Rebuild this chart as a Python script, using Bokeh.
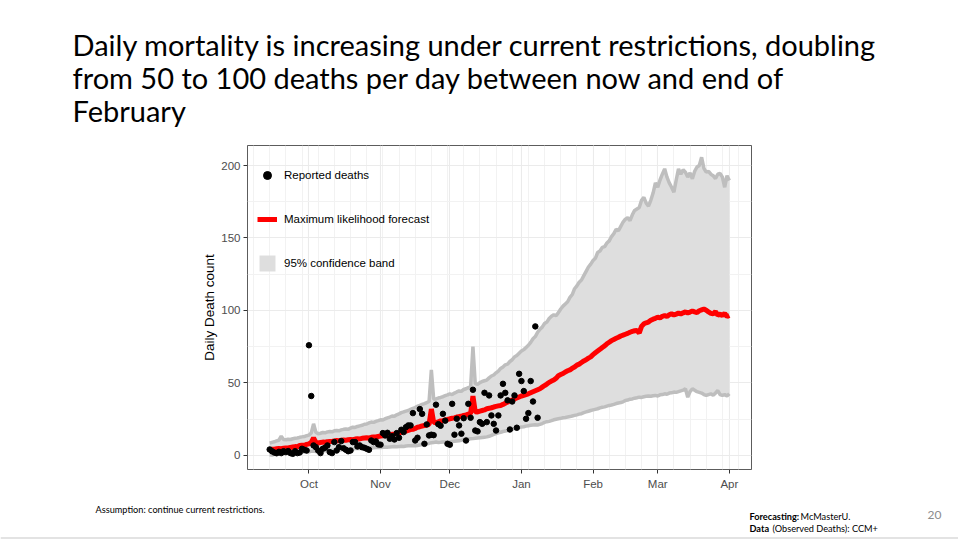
import numpy as np
import pandas as pd
from bokeh.plotting import figure
from bokeh.layouts import column
from bokeh.models import Range1d, FixedTicker, Label, Legend, LegendItem, Span
from bokeh.embed import file_html
from bokeh.resources import INLINE

# ---------------- data ----------------
start_date = "2020-09-14"   # first day of every daily series below

forecast = [
    4.0, 4.3, 4.2, 4.6, 4.8, 4.7, 5.0, 5.2, 5.1, 5.5,
    5.8, 6.1, 6.0, 6.9, 7.1, 7.0, 7.6, 8.0, 9.0, 12.0,
    9.0, 8.6, 8.9, 9.2, 9.1, 9.5, 9.7, 9.6, 10.0, 10.3,
    10.2, 10.5, 10.6, 10.5, 10.8, 11.0, 10.9, 11.3, 11.5, 11.4,
    11.8, 12.0, 12.2, 12.1, 12.5, 12.8, 12.7, 13.1, 13.4, 13.6,
    13.8, 14.2, 14.1, 14.6, 14.9, 15.3, 15.4, 16.1, 16.6, 16.8,
    17.3, 17.8, 18.0, 18.6, 19.5, 19.8, 20.3, 20.6, 21.0, 21.5,
    32.0, 22.8, 22.6, 23.2, 23.8, 24.0, 24.5, 24.8, 25.3, 25.6,
    25.9, 26.5, 26.8, 27.0, 27.6, 28.0, 28.5, 29.0, 41.0, 30.2,
    30.0, 30.6, 31.0, 31.4, 32.2, 32.5, 32.9, 33.4, 33.8, 34.2,
    34.5, 35.2, 36.0, 36.8, 37.5, 38.3, 39.0, 39.6, 40.3, 41.0,
    41.5, 42.0, 42.5, 43.2, 43.9, 44.6, 45.3, 46.0, 47.1, 48.2,
    49.2, 50.4, 51.3, 52.0, 53.2, 55.0, 55.8, 56.5, 57.6, 58.4,
    59.0, 60.2, 61.0, 62.3, 63.0, 64.1, 65.2, 66.0, 67.1, 68.0,
    69.5, 70.8, 72.0, 73.2, 74.5, 75.6, 77.0, 78.1, 79.2, 80.0,
    80.8, 81.5, 82.4, 83.0, 83.6, 84.2, 85.0, 85.6, 86.0, 86.2,
    84.5, 89.0, 90.8, 91.5, 92.0, 93.2, 94.0, 94.6, 95.4, 94.8,
    96.0, 96.5, 95.8, 97.0, 97.7, 96.9, 97.5, 98.2, 97.6, 98.4,
    99.0, 98.3, 98.9, 99.6, 99.0, 98.5, 99.8, 100.4, 101.0, 100.2,
    99.0, 98.0, 97.7, 99.2, 96.8, 97.5, 96.5, 98.0, 95.8, 96.5,
]

upper_band = [
    8.5, 9.0, 9.4, 10.0, 10.5, 13.3, 11.0, 10.8, 11.2, 11.0,
    11.5, 11.8, 12.0, 12.5, 12.8, 13.0, 13.6, 14.0, 15.5, 21.8,
    16.0, 15.0, 15.3, 15.8, 15.6, 16.2, 16.5, 16.3, 17.0, 17.2,
    17.0, 17.6, 18.0, 18.2, 18.0, 18.8, 19.5, 19.3, 20.0, 20.4,
    20.8, 21.5, 21.7, 22.4, 23.0, 22.8, 23.5, 24.0, 24.6, 24.4,
    25.3, 25.9, 26.5, 27.2, 27.0, 28.0, 28.7, 29.5, 30.0, 30.6,
    31.0, 31.8, 32.5, 33.0, 34.0, 34.5, 35.2, 35.8, 36.5, 37.2,
    59.0, 38.8, 39.0, 39.6, 40.0, 40.5, 41.2, 41.8, 42.5, 42.0,
    43.0, 43.8, 44.5, 44.2, 45.5, 46.0, 46.8, 47.5, 75.0, 49.5,
    49.0, 50.2, 51.0, 51.5, 52.0, 53.5, 54.8, 55.5, 57.0, 58.2,
    60.0, 61.0, 62.5, 63.0, 64.8, 66.0, 68.0, 69.0, 70.5, 72.0,
    73.0, 74.5, 76.0, 78.0, 80.5, 82.0, 85.0, 87.0, 88.5, 91.0,
    92.0, 94.5, 96.0, 97.0, 96.5, 98.5, 101.0, 103.0, 104.5, 106.0,
    109.0, 111.0, 115.0, 117.0, 119.5, 121.0, 124.0, 127.0, 130.0, 132.0,
    134.5, 136.0, 140.0, 141.0, 143.5, 144.0, 146.5, 148.0, 151.0, 153.0,
    156.0, 155.0, 158.0, 161.0, 163.0, 164.0, 162.0, 166.0, 169.0, 170.0,
    171.0, 176.0, 178.0, 174.0, 172.0, 176.0, 181.0, 188.0, 185.0, 190.0,
    194.0, 197.7, 192.0, 188.0, 185.0, 181.6, 190.0, 197.7, 194.0, 197.0,
    195.4, 192.0, 195.0, 190.8, 196.0, 199.0, 200.0, 205.7, 198.0, 195.4,
    196.0, 194.0, 193.0, 191.0, 194.0, 194.5, 192.0, 185.0, 193.0, 189.7,
]

lower_band = [
    0.5, 0.2, 0.8, 1.0, 0.9, 1.2, 1.4, 1.3, 1.6, 1.8,
    1.7, 2.0, 2.1, 2.0, 2.3, 2.4, 2.3, 2.5, 2.8, 3.0,
    2.7, 2.9, 3.1, 3.0, 3.3, 3.5, 3.4, 3.6, 3.8, 3.9,
    3.8, 4.0, 4.2, 4.1, 4.4, 4.5, 4.4, 4.7, 4.8, 4.8,
    5.0, 5.1, 5.0, 5.3, 5.4, 5.3, 5.5, 5.6, 5.5, 5.7,
    5.8, 5.7, 5.9, 6.0, 6.1, 6.0, 6.2, 6.3, 6.2, 6.5,
    6.6, 6.7, 6.8, 6.7, 6.9, 7.2, 7.5, 7.8, 8.0, 8.3,
    8.8, 9.0, 9.2, 9.0, 9.1, 9.3, 9.2, 9.4, 9.3, 9.6,
    9.8, 10.0, 10.2, 10.4, 10.8, 11.0, 11.3, 11.5, 11.6, 11.8,
    12.0, 12.2, 12.4, 12.6, 12.8, 13.2, 13.8, 14.5, 15.0, 15.6,
    16.0, 16.5, 16.8, 17.2, 17.8, 18.1, 18.5, 19.0, 19.2, 19.6,
    19.8, 20.2, 20.5, 20.8, 21.0, 21.2, 21.0, 21.4, 22.0, 22.8,
    23.3, 23.5, 24.0, 24.6, 25.0, 25.3, 25.6, 26.0, 26.2, 26.5,
    26.8, 27.2, 27.6, 28.0, 28.5, 28.8, 29.5, 30.0, 30.5, 31.0,
    31.4, 31.8, 32.2, 32.8, 33.2, 33.5, 34.0, 34.5, 34.8, 35.2,
    35.8, 36.2, 36.5, 37.0, 37.9, 38.2, 38.8, 39.0, 39.5, 39.8,
    40.2, 40.0, 40.5, 40.8, 41.0, 40.8, 41.2, 41.4, 41.0, 41.8,
    42.0, 42.5, 42.2, 43.0, 43.2, 43.7, 43.5, 44.0, 44.5, 45.0,
    46.0, 40.2, 44.0, 46.0, 45.0, 44.0, 43.5, 43.0, 42.0, 41.4,
    42.0, 42.5, 41.5, 43.0, 44.8, 42.0, 41.4, 42.0, 41.0, 42.5,
]

reported_deaths = [
    4.1, 2.9, 2.0, 1.5, 2.5, 1.6, 2.9, 2.3, 3.0, 1.6,
    1.1, 2.9, 1.6, 2.0, 4.6, 3.9, 3.4,
    76.0, 41.0, 6.9, 5.7, 3.4, 1.6, 4.6, 5.3, 6.9, 2.3,
    1.6, 9.2, 3.4, 5.7, 9.9, 5.0, 3.9, 2.9, 3.4, 9.2,
    9.2, 6.2, 6.9, 5.7, 5.3, 4.6, 3.9, 10.3, 9.2, 9.7,
    7.6, 7.4, 15.4, 13.8, 15.6, 11.5, 13.3, 11.0, 15.4, 12.2,
    17.7, 16.1, 19.5, 20.7, 20.7, 29.2, 10.3, 12.2, 32.0, 28.7,
    8.0, 21.4, 13.8, 14.3, 14.0, 35.0, 21.6, 20.5, 28.7, 24.0,
    8.0, 7.4, 35.6, 14.3, 25.3, 20.7, 15.0, 25.7, 10.3, 35.6,
    26.0, 45.3, 17.2, 16.6, 23.0, 21.8, 43.2, 23.0, 41.4, 27.6,
    21.8, 17.2, 27.6, 41.4, 49.4, 43.2, 38.0, 17.9, 37.2, 41.4,
    19.1, 56.3, 51.3, 44.4, 25.3, 29.2, 51.3, 37.2, 89.0, 26.0,
]

month_ticks = ["2020-10-01", "2020-11-01", "2020-12-01", "2021-01-01",
               "2021-02-01", "2021-03-01", "2021-04-01"]
month_labels = ["Oct", "Nov", "Dec", "Jan", "Feb", "Mar", "Apr"]
y_ticks = [0, 50, 100, 150, 200]
y_minor_ticks = [25, 75, 125, 175]

legend_labels = ["Reported deaths", "Maximum likelihood forecast", "95% confidence band"]
title_lines = [
    "Daily mortality is increasing under current restrictions, doubling",
    "from 50 to 100 deaths per day between now and end of",
    "February",
]

# ---------------- helpers ----------------
DAY = 86400000.0
W = 958


def ms(d):
    return pd.Timestamp(d).value / 1e6


def blank_fig(height, y_top, y_bottom):
    f = figure(width=W, height=height, output_backend="svg", toolbar_location=None,
               x_range=Range1d(0, W), y_range=Range1d(y_bottom, y_top),
               x_axis_location=None, y_axis_location=None,
               min_border=0, min_border_left=0, min_border_right=0,
               min_border_top=0, min_border_bottom=0)
    f.frame_align = False
    f.grid.visible = False
    f.outline_line_color = None
    f.background_fill_color = "white"
    f.border_fill_color = "white"
    return f


def add_text(f, txt, x, y, size, color="black", font="Lato", style="normal"):
    f.add_layout(Label(x=x, y=y, text=txt, text_font=font, text_font_size=size,
                       text_color=color, text_font_style=style,
                       text_baseline="alphabetic"))


# ---------------- title block ----------------
top = blank_fig(138, 0, 138)
for i, line in enumerate(title_lines):
    add_text(top, line, 72, 44 + 33 * i, "29px")

# ---------------- chart ----------------
dates = pd.date_range(start_date, periods=len(forecast), freq="D")
rep_dates = pd.date_range(start_date, periods=len(reported_deaths), freq="D")

x0 = ms(month_ticks[0]) - 26.6 * DAY
x1 = ms(month_ticks[0]) + 191.6 * DAY

p = figure(width=W, height=357, output_backend="svg", toolbar_location=None,
           x_axis_type="datetime",
           x_range=Range1d(x0, x1), y_range=Range1d(-9.7, 213.8),
           min_border_left=247, min_border_right=W - 751,
           min_border_top=7, min_border_bottom=26)
p.frame_align = False
p.background_fill_color = "white"
p.border_fill_color = "white"
p.outline_line_color = "#333333"
p.outline_line_width = 1
p.outline_line_alpha = 0.8

week_lines = [ms(d) for d in pd.date_range("2020-09-07", "2021-04-12", freq="W-MON")]
tick_ms = [ms(d) for d in month_ticks]
p.xaxis.ticker = FixedTicker(ticks=tick_ms, minor_ticks=week_lines)
p.xaxis.major_label_overrides = {t: lab for t, lab in zip(tick_ms, month_labels)}
p.yaxis.ticker = FixedTicker(ticks=y_ticks, minor_ticks=y_minor_ticks)

for ax in (p.xaxis, p.yaxis):
    ax.axis_line_color = None
    ax.major_tick_line_color = "#333333"
    ax.major_tick_out = 4
    ax.major_tick_in = 0
    ax.minor_tick_line_color = None
    ax.major_label_text_font = "Liberation Sans"
    ax.major_label_text_font_size = "11.5px"
    ax.major_label_text_color = "#4D4D4D"
    ax.major_label_standoff = 3
p.xaxis.major_label_standoff = 4

p.yaxis.axis_label = "Daily Death count"
p.yaxis.axis_label_text_font = "Liberation Sans"
p.yaxis.axis_label_text_font_size = "13.5px"
p.yaxis.axis_label_text_font_style = "normal"
p.yaxis.axis_label_text_color = "black"
p.yaxis.axis_label_standoff = 1

for g in (p.xgrid, p.ygrid):
    g.grid_line_color = "#EBEBEB"
    g.grid_line_width = 1.1
    g.minor_grid_line_color = "#F2F2F2"
    g.minor_grid_line_width = 1

band = p.varea(x=dates, y1=lower_band, y2=upper_band, fill_color="#DEDEDE")
p.line(dates, upper_band, line_color="#BEBEBE", line_width=3.5)
p.line(dates, lower_band, line_color="#BEBEBE", line_width=3.5)
red = p.line(dates, forecast, line_color="#FF0000", line_width=5)
pts = p.scatter(rep_dates, reported_deaths, size=5.5, color="black")

legend = Legend(items=[
    LegendItem(label=legend_labels[0], renderers=[pts]),
    LegendItem(label=legend_labels[1], renderers=[red]),
    LegendItem(label=legend_labels[2], renderers=[band]),
], location=(10, 196))
legend.glyph_width = 20
legend.glyph_height = 20
legend.label_height = 20
legend.spacing = 24
legend.padding = 5
legend.margin = 0
legend.label_standoff = 7
legend.label_text_font = "Liberation Sans"
legend.label_text_font_size = "11.5px"
legend.label_text_color = "black"
legend.background_fill_alpha = 0
legend.border_line_color = None
p.add_layout(legend)

# ---------------- footer ----------------
bot = blank_fig(44, 495, 539)
add_text(bot, "Assumption: continue current restrictions.", 95, 508.5, "9.2px")
add_text(bot, "Forecasting:", 749, 515.5, "9.2px", style="bold")
add_text(bot, "McMasterU.", 800, 515.5, "9.2px")
add_text(bot, "Data", 749, 527.5, "9.2px", style="bold")
add_text(bot, "(Observed Deaths): CCM+", 772, 527.5, "9.2px")
add_text(bot, "20", 927, 514, "12px", color="#8C8C8C")
bot.add_layout(Span(location=537.5, dimension="width", line_color="#E3E3E3", line_width=2))

layout = column(top, p, bot, spacing=0)
open("out.html", "w").write(file_html(layout, INLINE))
